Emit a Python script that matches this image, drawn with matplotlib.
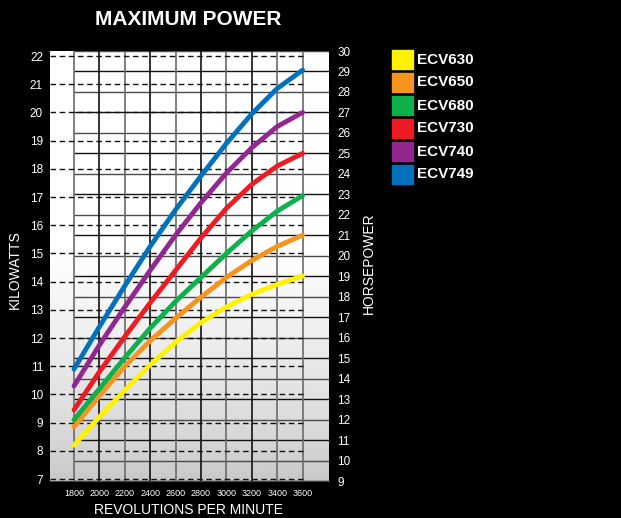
import numpy as np
import matplotlib
matplotlib.use("Agg")
import matplotlib.pyplot as plt
from matplotlib.patches import Rectangle

# data (kilowatts at each rpm)
rpm = [1800, 2000, 2200, 2400, 2600, 2800, 3000, 3200, 3400, 3600]
models = ["ECV630", "ECV650", "ECV680", "ECV730", "ECV740", "ECV749"]
colors = ["#fff200", "#f7941d", "#0db04b", "#ed1c24", "#92278f", "#0072bc"]
ecv630 = [8.2, 9.2, 10.15, 11.05, 11.85, 12.55, 13.1, 13.55, 13.9, 14.2]
ecv650 = [8.85, 9.95, 11.0, 11.9, 12.7, 13.45, 14.15, 14.75, 15.25, 15.65]
ecv680 = [9.1, 10.2, 11.3, 12.35, 13.3, 14.15, 15.0, 15.8, 16.5, 17.05]
ecv730 = [9.45, 10.8, 12.05, 13.25, 14.4, 15.55, 16.6, 17.45, 18.1, 18.55]
ecv740 = [10.3, 11.75, 13.1, 14.4, 15.65, 16.8, 17.85, 18.75, 19.5, 20.0]
ecv749 = [10.9, 12.4, 13.85, 15.25, 16.55, 17.75, 18.9, 19.95, 20.85, 21.5]
series = [ecv630, ecv650, ecv680, ecv730, ecv740, ecv749]
kw_ticks = list(range(7, 23))
hp_ticks = list(range(9, 31))

W, H = 621, 518
fig = plt.figure(figsize=(W / 100, H / 100), dpi=100, facecolor="black")

# panel in pixels: x 50..329, y 51..481
ax = fig.add_axes([50 / W, (H - 481) / H, 279 / W, 430 / H])
ax.set_xlim(1611, 3808)
ax.set_ylim(6.93, 22.18)
ax2 = ax.twinx()
ax2.set_ylim(9.0, 30.0)

# grey gradient background (on the lower axes)
t = np.linspace(0, 1, 256)
v = 0.78 + 0.22 * np.clip(t / 0.55, 0, 1) ** 0.75
grad = np.repeat(v[:, None], 2, axis=1)
ax2.imshow(grad, cmap="gray", vmin=0, vmax=1, origin="lower", aspect="auto",
           extent=[1611, 3808, 9.0, 30.0], zorder=0)

# solid HP lines
for i, h in enumerate(hp_ticks):
    c = "#111111" if i % 2 == 0 else "#4a4a4a"
    ax2.hlines(h, 1800, 3808, colors=c, lw=1.0, zorder=1)

# vertical grid lines
for i, r in enumerate(rpm):
    c = "#6a6a6a" if i % 2 == 0 or r == 3600 else "#111111"
    ax.axvline(r, color=c, lw=1.2, zorder=1)

# dashed kW lines
ax.hlines(kw_ticks, 1611, 3600, colors="#111111", lw=1.0,
          linestyles=(0, (4, 2.6)), zorder=1)

for vals, col in zip(series, colors):
    ax.plot(rpm, vals, color=col, lw=3.5, solid_capstyle="round",
            solid_joinstyle="round", zorder=3)

ax2.set_zorder(ax.get_zorder() - 1)
ax.patch.set_visible(False)

for a in (ax, ax2):
    for s in a.spines.values():
        s.set_visible(False)
ax.spines["bottom"].set_visible(True)
ax.spines["bottom"].set_color("#444444")

font = "Liberation Sans"
ax.set_xticks(rpm)
ax.set_xticklabels([str(r) for r in rpm], fontsize=6.5, family=font,
                   color="white")
ax.set_yticks(kw_ticks)
ax.set_yticklabels([str(k) for k in kw_ticks], fontsize=8.5, family=font,
                   color="white")
ax.tick_params(axis="x", length=0, pad=6)
ax.tick_params(axis="y", length=0, pad=5)
ax2.set_yticks(hp_ticks)
ax2.set_yticklabels([str(h) for h in hp_ticks], fontsize=8.5, family=font,
                    color="white")
ax2.tick_params(axis="y", length=0, pad=6)

fig.text(188 / W, 1 - 19.5 / H, "MAXIMUM POWER", color="white",
         fontsize=15, fontweight="bold", family=font,
         ha="center", va="center")
fig.text(188 / W, 1 - 510 / H, "REVOLUTIONS PER MINUTE", color="white",
         fontsize=10, family=font, ha="center", va="center")
fig.text(15 / W, 1 - 270 / H, "KILOWATTS", color="white", fontsize=10,
         family=font, rotation=90, ha="center", va="center")
fig.text(369 / W, 1 - 263 / H, "HORSEPOWER", color="white", fontsize=10,
         family=font, rotation=90, ha="center", va="center")

# legend
for i, (name, col) in enumerate(zip(models, colors)):
    y0 = 50 + i * 23
    fig.patches.append(Rectangle((392 / W, 1 - (y0 + 18.5) / H), 20.5 / W,
                                 18.5 / H, transform=fig.transFigure,
                                 color=col, figure=fig))
    fig.text(417 / W, 1 - (y0 + 9.5) / H, name, color="white", fontsize=11,
             fontweight="bold", family=font, ha="left", va="center")

fig.savefig("out.png", dpi=100, facecolor="black")
